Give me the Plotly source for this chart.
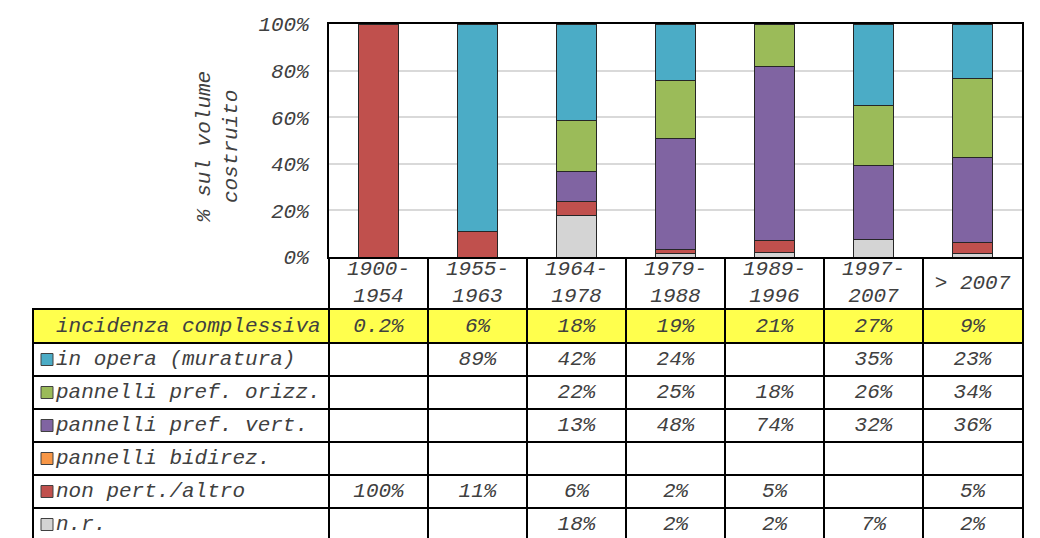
import plotly.graph_objects as go

# ---------------- data ----------------
periods = ["1900-1954", "1955-1963", "1964-1978", "1979-1988", "1989-1996", "1997-2007", "> 2007"]
incidenza = [0.2, 6, 18, 19, 21, 27, 9]

in_opera = [None, 89.0, 41.6, 24.2, None, 34.9, 23.3]
pref_orizz = [None, None, 21.6, 24.9, 18.4, 26.0, 34.2]
pref_vert = [None, None, 12.8, 47.6, 74.4, 31.8, 36.1]
bidirez = [None, None, None, None, None, None, None]
non_pert = [100.0, 11.0, 6.4, 1.7, 5.4, None, 4.8]
non_rilevato = [None, None, 17.6, 1.6, 1.8, 7.3, 1.6]

series_names = ["in opera (muratura)", "pannelli pref. orizz.", "pannelli pref. vert.",
                "pannelli bidirez.", "non pert./altro", "n.r."]
series_values = [in_opera, pref_orizz, pref_vert, bidirez, non_pert, non_rilevato]
series_colors = ["#4BACC6", "#9BBB59", "#8064A2", "#F79646", "#C0504D", "#D4D4D4"]

incidenza_label = "incidenza complessiva"
y_title = "% sul volume<br>costruito"
y_ticks = [0, 20, 40, 60, 80, 100]
y_ticktext = [f"{v}%" for v in y_ticks]

# ---------------- layout constants (page pixels) ----------------
OFF = 8                      # page body margin
W, H = 1040 - OFF, 538 - OFF  # figure size
PLOT_L, PLOT_R, PLOT_T, PLOT_B = 329, 1022, 24, 257
TABLE_L = 34
HEAD_B = 310
ROW_H = 33
FONT = "Liberation Mono, Courier New, monospace"
FS = 21
TXT = "#404040"
YELLOW = "#FFFF4D"


def fx(p):  # page x -> paper fraction
    return (p - OFF) / W


def fy(p):  # page y -> paper fraction
    return (H - (p - OFF)) / H


n = len(periods)
col_px = (PLOT_R - PLOT_L) / n
label_units = (PLOT_L - TABLE_L) / col_px
x_lo, x_hi = -0.5 - label_units, n - 0.5
col_bounds = [i - 0.5 for i in range(n)]
n_rows = 1 + len(series_names)
row_bounds = [r + 0.5 for r in range(n_rows - 1)]
rows_visible = (538 - HEAD_B) / ROW_H
label_x = x_lo + (56 - TABLE_L) / col_px
key_x = x_lo + (47 - TABLE_L) / col_px

tfont = dict(family=FONT, size=FS, color=TXT, style="italic")

fig = go.Figure()

# stacked bars (bottom to top: reverse of table order)
for name, vals, col in reversed(list(zip(series_names, series_values, series_colors))):
    fig.add_trace(go.Bar(
        x=periods, y=vals, name=name, marker=dict(color=col, line=dict(color="#262626", width=1)),
        xaxis="x", yaxis="y", hoverinfo="skip"))

# header row with period labels
header_text = [p.replace("-", "-<br>") for p in periods]
fig.add_trace(go.Scatter(
    x=list(range(n)), y=[0] * n, text=header_text, mode="text", textposition="middle center",
    textfont=tfont, xaxis="x2", yaxis="y2", hoverinfo="skip"))

# table values
tx, ty, tt = [], [], []
for i, v in enumerate(incidenza):
    tx.append(i); ty.append(0); tt.append(f"{v:g}%")
for r, vals in enumerate(series_values, start=1):
    for i, v in enumerate(vals):
        if v is not None:
            tx.append(i); ty.append(r); tt.append(f"{round(v)}%")
fig.add_trace(go.Scatter(
    x=tx, y=ty, text=tt, mode="text", textposition="middle center",
    textfont=tfont, xaxis="x3", yaxis="y3", hoverinfo="skip"))

# row labels
labels = [incidenza_label] + series_names
fig.add_trace(go.Scatter(
    x=[label_x] * n_rows, y=list(range(n_rows)), text=labels, mode="text",
    textposition="middle right", textfont=tfont, xaxis="x3", yaxis="y3", hoverinfo="skip"))

# legend keys
fig.add_trace(go.Scatter(
    x=[key_x] * len(series_names), y=list(range(1, n_rows)), mode="markers",
    marker=dict(symbol="square", size=12, color=series_colors, line=dict(color="#404040", width=1)),
    xaxis="x3", yaxis="y3", hoverinfo="skip"))

fig.add_shape(type="rect", xref="x3 domain", x0=0, x1=1, yref="y3", y0=-0.5, y1=0.5,
              fillcolor=YELLOW, line=dict(width=0), layer="below")

fig.add_annotation(text=y_title, xref="paper", yref="paper", x=fx(218), y=fy(147),
                   xanchor="center", yanchor="middle", textangle=-90, showarrow=False,
                   font=dict(family=FONT, size=FS, color=TXT, style="italic"))

axis_off = dict(showticklabels=False, ticks="", zeroline=False)

fig.update_layout(
    width=W, height=H, autosize=False, margin=dict(l=0, r=0, t=0, b=0),
    paper_bgcolor="white", plot_bgcolor="white", template="none",
    barmode="stack", bargap=0.6, showlegend=False,
    font=dict(family=FONT, size=FS, color=TXT),
    xaxis=dict(domain=[fx(PLOT_L), fx(PLOT_R)], type="category", anchor="y",
               showgrid=False, showline=True, linecolor="black", linewidth=2, mirror=True, **axis_off),
    yaxis=dict(domain=[fy(PLOT_B), fy(PLOT_T)], range=[0, 100], anchor="x",
               tickmode="array", tickvals=y_ticks, ticktext=y_ticktext, ticks="", zeroline=False,
               showgrid=True, gridcolor="#D9D9D9", gridwidth=2,
               showline=True, linecolor="black", linewidth=2, mirror=True,
               ticklabelstandoff=14,
               tickfont=dict(family=FONT, size=FS, color=TXT, style="italic")),
    xaxis2=dict(domain=[fx(TABLE_L), fx(PLOT_R)], range=[x_lo, x_hi], anchor="y2",
                tickmode="array", tickvals=col_bounds, showgrid=True, gridcolor="black", gridwidth=2,
                showline=False, **axis_off),
    yaxis2=dict(domain=[fy(HEAD_B), fy(PLOT_B)], range=[-0.5, 0.5], anchor="x2",
                side="right", showgrid=False, showline=True, linecolor="black", linewidth=2, **axis_off),
    xaxis3=dict(domain=[fx(TABLE_L), fx(PLOT_R)], range=[x_lo, x_hi], anchor="y3", side="top",
                tickmode="array", tickvals=col_bounds, showgrid=True, gridcolor="black", gridwidth=2,
                showline=True, linecolor="black", linewidth=2, **axis_off),
    yaxis3=dict(domain=[0, fy(HEAD_B)], range=[-0.5 + rows_visible, -0.5], anchor="x3",
                tickmode="array", tickvals=row_bounds, showgrid=True, gridcolor="black", gridwidth=2,
                showline=True, linecolor="black", linewidth=2, mirror=True, **axis_off),
)

fig.write_html("out.html")
